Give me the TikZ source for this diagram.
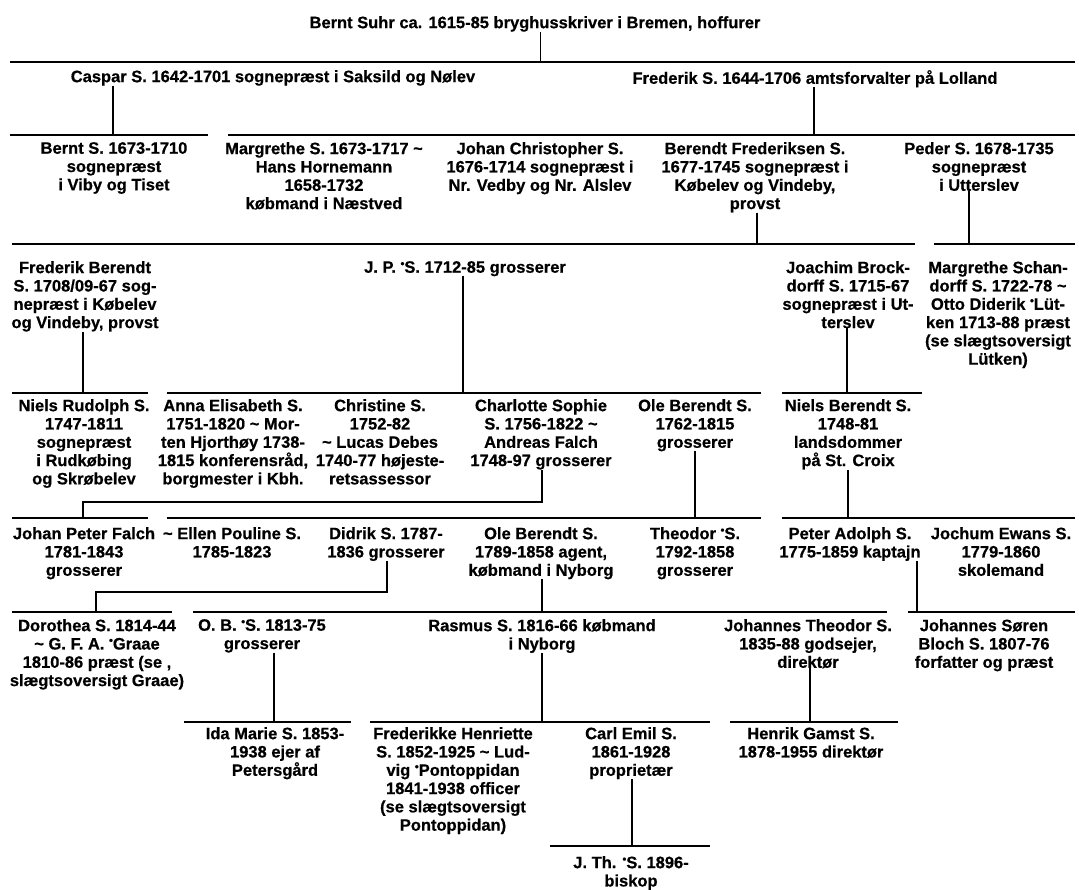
\documentclass[tikz,border=0pt]{standalone}
\usepackage{fontspec}
\setmainfont{Liberation Sans}[BoldFeatures={FakeBold=0.6}]
\newcommand{\tld}{\textasciitilde}
\newcommand{\mk}{\raisebox{0.62ex}{\fontsize{11}{11}\selectfont\textbullet}}
\begin{document}
\begin{tikzpicture}[x=1pt,y=-1pt]
\tikzset{
  p/.style={font=\bfseries\fontsize{16.5}{18.3}\selectfont, align=center, inner sep=0pt, anchor=north},
  bar/.style={line width=1.8pt},
  con/.style={line width=1.3pt},
}
\fill[white] (0,0) rectangle (1079,889);
\useasboundingbox (0,0) rectangle (1079,889);

% ---------- nodes ----------
\node[p] (title) at (535,16) {Bernt Suhr ca. 1615-85 bryghusskriver i Bremen, hoffurer};
\node[p] (caspar) at (273,70) {Caspar S. 1642-1701 sognepræst i Saksild og Nølev};
\node[p] (frederik) at (815,70) {Frederik S. 1644-1706 amtsforvalter på Lolland};

\node[p] (bernt) at (114,142) {Bernt S. 1673-1710\\sognepræst\\i Viby og Tiset};
\node[p] (margrethe) at (324,142) {Margrethe S. 1673-1717 \tld\\Hans Hornemann\\1658-1732\\købmand i Næstved};
\node[p] (johanc) at (540,142) {Johan Christopher S.\\1676-1714 sognepræst i\\Nr. Vedby og Nr. Alslev};
\node[p] (berendtf) at (755,142) {Berendt Frederiksen S.\\1677-1745 sognepræst i\\Købelev og Vindeby,\\provst};
\node[p] (peder) at (979,142) {Peder S. 1678-1735\\sognepræst\\i Utterslev};

\node[p] (fberendt) at (85,261) {Frederik Berendt\\S. 1708/09-67 sog-\\nepræst i Købelev\\og Vindeby, provst};
\node[p] (jp) at (465,261) {J. P. \mk S. 1712-85 grosserer};
\node[p] (joachim) at (848,261) {Joachim Brock-\\dorff S. 1715-67\\sognepræst i Ut-\\terslev};
\node[p] (margrethes) at (998,261) {Margrethe Schan-\\dorff S. 1722-78 \tld\\Otto Diderik \mk Lüt-\\ken 1713-88 præst\\(se slægtsoversigt\\Lütken)};

\node[p] (nielsr) at (84,399) {Niels Rudolph S.\\1747-1811\\sognepræst\\i Rudkøbing\\og Skrøbelev};
\node[p] (anna) at (233,399) {Anna Elisabeth S.\\1751-1820 \tld\ Mor-\\ten Hjorthøy 1738-\\1815 konferensråd,\\borgmester i Kbh.};
\node[p] (christine) at (380,399) {Christine S.\\1752-82\\\tld\ Lucas Debes\\1740-77 højeste-\\retsassessor};
\node[p] (charlotte) at (541,399) {Charlotte Sophie\\S. 1756-1822 \tld\\Andreas Falch\\1748-97 grosserer};
\node[p] (oleb1) at (695,399) {Ole Berendt S.\\1762-1815\\grosserer};
\node[p] (nielsb) at (848,399) {Niels Berendt S.\\1748-81\\landsdommer\\på St. Croix};

\node[p] (johanp) at (84,527) {Johan Peter Falch\\1781-1843\\grosserer};
\node[p] (ellen) at (232,527) {\tld\ Ellen Pouline S.\\1785-1823};
\node[p] (didrik) at (386,527) {Didrik S. 1787-\\1836 grosserer};
\node[p] (oleb2) at (541,527) {Ole Berendt S.\\1789-1858 agent,\\købmand i Nyborg};
\node[p] (theodor) at (695,527) {Theodor \mk S.\\1792-1858\\grosserer};
\node[p] (peter) at (850,527) {Peter Adolph S.\\1775-1859 kaptajn};
\node[p] (jochum) at (1001,527) {Jochum Ewans S.\\1779-1860\\skolemand};

\node[p] (dorothea) at (97,619) {Dorothea S. 1814-44\\\tld\ G. F. A. \mk Graae\\1810-86 præst (se ,\\slægtsoversigt Graae)};
\node[p] (ob) at (262,619) {O. B. \mk S. 1813-75\\grosserer};
\node[p] (rasmus) at (542,619) {Rasmus S. 1816-66 købmand\\i Nyborg};
\node[p] (johannest) at (808,619) {Johannes Theodor S.\\1835-88 godsejer,\\direktør};
\node[p] (johanness) at (984,619) {Johannes Søren\\Bloch S. 1807-76\\forfatter og præst};

\node[p] (ida) at (275,727) {Ida Marie S. 1853-\\1938 ejer af\\Petersgård};
\node[p] (frederikke) at (453,727) {Frederikke Henriette\\S. 1852-1925 \tld\ Lud-\\vig \mk Pontoppidan\\1841-1938 officer\\(se slægtsoversigt\\Pontoppidan)};
\node[p] (carl) at (631,727) {Carl Emil S.\\1861-1928\\proprietær};
\node[p] (henrik) at (811,727) {Henrik Gamst S.\\1878-1955 direktør};

\node[p] (jth) at (631,856) {J. Th. \mk S. 1896-\\biskop};

% ---------- sibling bars ----------
\coordinate (b1a) at (10,62);   \coordinate (b1b) at (1075,62);
\coordinate (b2a) at (10,135);  \coordinate (b2b) at (208,135);
\coordinate (b2c) at (228,135); \coordinate (b2d) at (1075,135);
\coordinate (b3a) at (12,244);  \coordinate (b3b) at (915,244);
\coordinate (b3c) at (934,244); \coordinate (b3d) at (1075,244);
\coordinate (b4a) at (12,393);  \coordinate (b4b) at (148,393);
\coordinate (b4c) at (167,393); \coordinate (b4d) at (761,393);
\coordinate (b4e) at (782,393); \coordinate (b4f) at (922,393);
\coordinate (b5a) at (12,518);  \coordinate (b5b) at (148,518);
\coordinate (b5c) at (167,518); \coordinate (b5d) at (761,518);
\coordinate (b5e) at (782,518); \coordinate (b5f) at (1075,518);
\coordinate (b6a) at (12,612);  \coordinate (b6b) at (172,612);
\coordinate (b6c) at (193,612); \coordinate (b6d) at (887,612);
\coordinate (b6e) at (908,612); \coordinate (b6f) at (1075,612);
\coordinate (b7a) at (184,722); \coordinate (b7b) at (351,722);
\coordinate (b7c) at (370,722); \coordinate (b7d) at (710,722);
\coordinate (b7e) at (730,722); \coordinate (b7f) at (898,722);
\coordinate (b8a) at (550,846); \coordinate (b8b) at (710,846);

\draw[bar] (b1a) -- (b1b);
\draw[bar] (b2a) -- (b2b); \draw[bar] (b2c) -- (b2d);
\draw[bar] (b3a) -- (b3b); \draw[bar] (b3c) -- (b3d);
\draw[bar] (b4a) -- (b4b); \draw[bar] (b4c) -- (b4d); \draw[bar] (b4e) -- (b4f);
\draw[bar] (b5a) -- (b5b); \draw[bar] (b5c) -- (b5d); \draw[bar] (b5e) -- (b5f);
\draw[bar] (b6a) -- (b6b); \draw[bar] (b6c) -- (b6d); \draw[bar] (b6e) -- (b6f);
\draw[bar] (b7a) -- (b7b); \draw[bar] (b7c) -- (b7d); \draw[bar] (b7e) -- (b7f);
\draw[bar] (b8a) -- (b8b);

% ---------- junctions ----------
\coordinate (j0) at (540.5,62);
\coordinate (jcas) at (113,135);  \coordinate (jfre) at (814,135);
\coordinate (jber) at (757,244);  \coordinate (jped) at (969,244);
\coordinate (jfb) at (83,393);    \coordinate (jjp) at (463,393);  \coordinate (jjoa) at (847,393);
\coordinate (jch1) at (542,502);  \coordinate (jch2) at (83,502);  \coordinate (jch3) at (83,518);
\coordinate (jole1) at (695,518); \coordinate (jnb) at (848,518);
\coordinate (jd1) at (387,592);   \coordinate (jd2) at (96,592);   \coordinate (jd3) at (96,612);
\coordinate (jole2) at (542,612); \coordinate (jpet) at (917,612);
\coordinate (job) at (274,722);   \coordinate (jras) at (542,722); \coordinate (jjt) at (810,722);
\coordinate (jcarl) at (632,846);

% ---------- connectors ----------
\draw[con] (title.south -| j0) -- (j0);
\draw[con] (caspar.south -| jcas) -- (jcas);
\draw[con] (frederik.south -| jfre) -- (jfre);
\draw[con] (berendtf.south -| jber) -- (jber);
\draw[con] (peder.south -| jped) -- (jped);
\draw[con] (fberendt.south -| jfb) -- (jfb);
\draw[con] (jp.south -| jjp) -- (jjp);
\draw[con] (joachim.south -| jjoa) -- (jjoa);
\draw[con] (charlotte.south -| jch1) -- (jch1) -- (jch2) -- (jch3);
\draw[con] (oleb1.south -| jole1) -- (jole1);
\draw[con] (nielsb.south -| jnb) -- (jnb);
\draw[con] (didrik.south -| jd1) -- (jd1) -- (jd2) -- (jd3);
\draw[con] (oleb2.south -| jole2) -- (jole2);
\draw[con] (peter.south -| jpet) -- (jpet);
\draw[con] (ob.south -| job) -- (job);
\draw[con] (rasmus.south -| jras) -- (jras);
\draw[con] (johannest.south -| jjt) -- (jjt);
\draw[con] (carl.south -| jcarl) -- (jcarl);
\end{tikzpicture}
\end{document}
